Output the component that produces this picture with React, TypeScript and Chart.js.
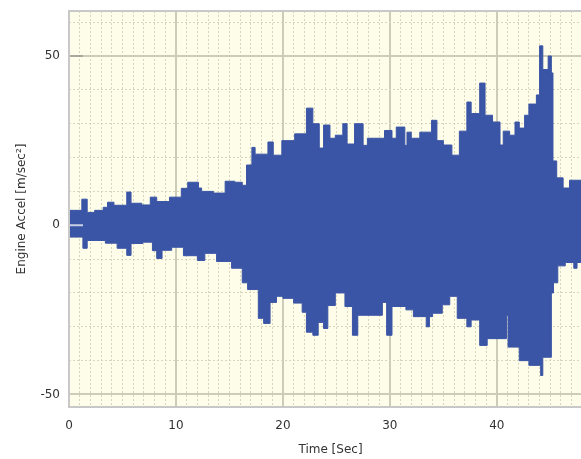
import React, { useEffect, useRef } from "react";
import { Chart, registerables } from "chart.js";

Chart.register(...registerables);

// Upper envelope of the acceleration signal (time in s, value in m/sec²), each value held until the next time
const upperT = [0, 1.2, 1.7, 2.4, 3.2, 3.6, 4.2, 5.4, 5.8, 6.8, 7.6, 8.2, 9.4, 10.5, 11.1, 12.1, 12.4, 13.5, 14.6, 15.5, 16.2, 16.6, 17.1, 17.4, 18.6, 19.1, 19.9, 21.1, 22.2, 22.8, 23.4, 23.8, 24.4, 24.9, 25.6, 26.0, 26.7, 27.5, 27.9, 29.5, 30.2, 30.6, 31.4, 31.6, 32.0, 32.8, 33.9, 34.4, 35.0, 35.8, 36.5, 37.2, 37.6, 38.4, 38.9, 39.6, 40.3, 40.6, 41.2, 41.7, 42.1, 42.6, 43.0, 43.7, 44.0, 44.3, 44.8, 45.1, 45.25, 45.6, 46.2, 46.8, 48.9];
const upperV = [4.4, 7.7, 3.8, 4.4, 5.3, 6.8, 5.9, 9.8, 6.5, 6, 8.3, 7, 8.3, 10.9, 12.7, 11, 10, 9.5, 13, 12.7, 11.8, 17.8, 23, 21, 24.6, 20.7, 25, 27, 34.6, 30, 22.8, 29.6, 25.7, 26.6, 30, 24, 30, 23.6, 25.7, 28, 25.7, 29, 23.6, 27.5, 25.7, 27.5, 31, 25, 23.7, 20.7, 27.8, 36.4, 33, 42, 32.5, 30.5, 23.7, 27.8, 26.6, 30.5, 28.7, 32.5, 35.8, 38.5, 53, 46, 50, 45, 19, 14, 11, 13.3, 13.3];

// Lower envelope
const lowerT = [0, 1.3, 1.7, 3.4, 4.5, 5.4, 5.8, 6.9, 7.8, 8.2, 8.7, 9.6, 10.7, 12.0, 12.7, 13.8, 15.2, 16.2, 16.7, 17.7, 18.2, 18.8, 19.4, 20.0, 21.0, 21.8, 22.2, 22.8, 23.3, 23.8, 24.2, 24.9, 25.8, 26.5, 27.0, 29.3, 29.7, 30.2, 31.5, 32.2, 33.4, 33.7, 34.0, 34.9, 35.6, 36.3, 37.2, 37.6, 38.4, 39.1, 40.9, 41.05, 42.1, 43.0, 44.1, 44.3, 45.1, 45.3, 45.7, 46.4, 47.2, 47.5, 48.9];
const lowerV = [-3.5, -6.8, -4.5, -5.3, -6.8, -8.9, -5.4, -5, -7.5, -9.8, -7.4, -6.5, -9, -10.4, -8.3, -10.7, -12.7, -17, -19, -27.5, -29, -22.8, -21, -21.6, -23, -25.7, -31.6, -32.5, -28.7, -30.5, -23.7, -20, -24, -32.5, -26.6, -22.8, -32.5, -24, -25, -27, -30, -27, -26, -23.5, -21, -27.5, -30, -28, -35.5, -33.5, -26.6, -36, -40, -41.4, -44.4, -39, -20, -17, -12, -11, -12.7, -11, -11];

const xTickLabels = [0, 10, 20, 30, 40];
const yTickLabels = [-50, 0, 50];
const X_MIN = 0;
const X_MAX = 48.9;
const Y_MIN = -53.7;
const Y_MAX = 63.3;

const BLUE = "rgb(58, 84, 166)";
const BG = "#FEFDE9";
const MAJOR = "#CDCBBA";
const MINOR = "#D8D5BC";
const FONT = "'DejaVu Sans', sans-serif";

export default function App() {
  const ref = useRef<HTMLCanvasElement | null>(null);

  useEffect(() => {
    if (!ref.current) return;
    const bgPlugin = {
      id: "plotBg",
      beforeDraw(chart: any) {
        const { ctx, chartArea: a } = chart;
        ctx.save();
        ctx.fillStyle = BG;
        ctx.fillRect(a.left, a.top, a.right - a.left, a.bottom - a.top);
        ctx.restore();
      },
      afterDatasetsDraw(chart: any) {
        const { ctx, chartArea: a, scales } = chart;
        ctx.save();
        const y50 = scales.y.getPixelForValue(50);
        const y0 = scales.y.getPixelForValue(0);
        ctx.lineWidth = 2;
        ctx.strokeStyle = "#A8A8A0";
        ctx.beginPath();
        ctx.moveTo(a.left, y50);
        ctx.lineTo(a.left + 14, y50);
        ctx.stroke();
        ctx.strokeStyle = "#C9D0E6";
        ctx.beginPath();
        ctx.moveTo(a.left, y0);
        ctx.lineTo(a.left + 14, y0);
        ctx.stroke();
        ctx.strokeStyle = "#C8C8C8";
        ctx.lineWidth = 2;
        ctx.strokeRect(a.left, a.top, a.right - a.left + 20, a.bottom - a.top);
        ctx.restore();
      },
    };

    const upper = upperT.map((t, i) => ({ x: t, y: upperV[i] }));
    const lower = lowerT.map((t, i) => ({ x: t, y: lowerV[i] }));

    const chart = new Chart(ref.current, {
      type: "line",
      data: {
        datasets: [
          {
            data: upper,
            borderColor: BLUE,
            backgroundColor: BLUE,
            borderWidth: 1,
            pointRadius: 0,
            stepped: "before",
            fill: "+1",
          },
          {
            data: lower,
            borderColor: BLUE,
            backgroundColor: BLUE,
            borderWidth: 1,
            pointRadius: 0,
            stepped: "before",
            fill: false,
          },
        ],
      },
      options: {
        animation: false,
        responsive: false,
        devicePixelRatio: 1,
        layout: { padding: { left: 0, right: 8, top: 11, bottom: 0 } },
        plugins: { legend: { display: false }, tooltip: { enabled: false } },
        scales: {
          x: {
            type: "linear",
            min: X_MIN,
            max: X_MAX,
            afterBuildTicks(scale: any) {
              const t = [];
              for (let v = 0; v <= 48; v++) t.push({ value: v });
              scale.ticks = t;
            },
            afterFit(scale: any) {
              scale.height = 52;
              scale.paddingLeft = 0;
              scale.paddingRight = 0;
            },
            ticks: {
              autoSkip: false,
              maxRotation: 0,
              padding: 12,
              color: "#333",
              font: { family: FONT, size: 12 },
              callback: (v: any) => (xTickLabels.includes(Number(v)) ? String(v) : ""),
            },
            grid: {
              drawTicks: false,
              color: (c: any) => (c.tick && c.tick.value % 10 === 0 ? MAJOR : MINOR),
              lineWidth: (c: any) => (c.tick && c.tick.value % 10 === 0 ? 2 : 1),
            },
            border: {
              display: false,
              dash: (c: any) => (c.tick && c.tick.value % 10 !== 0 ? [2, 2] : []),
            },
            title: {
              display: true,
              text: "Time [Sec]",
              color: "#333",
              font: { family: FONT, size: 12 },
              padding: { top: 0, bottom: 2 },
            },
          },
          y: {
            type: "linear",
            min: Y_MIN,
            max: Y_MAX,
            afterBuildTicks(scale: any) {
              const t = [];
              for (let v = -50; v <= 60; v += 10) t.push({ value: v });
              scale.ticks = t;
            },
            afterFit(scale: any) {
              scale.width = 69;
              scale.paddingTop = 0;
              scale.paddingBottom = 0;
            },
            ticks: {
              autoSkip: false,
              padding: 9,
              color: "#333",
              font: { family: FONT, size: 12 },
              callback: (v: any) => (yTickLabels.includes(Number(v)) ? String(v) : ""),
            },
            grid: {
              drawTicks: false,
              color: (c: any) => (c.tick && c.tick.value % 50 === 0 ? MAJOR : MINOR),
              lineWidth: (c: any) => (c.tick && c.tick.value % 50 === 0 ? 2 : 1),
            },
            border: {
              display: false,
              dash: (c: any) => (c.tick && c.tick.value % 50 !== 0 ? [2, 2] : []),
            },
            title: {
              display: true,
              text: "Engine Accel [m/sec²]",
              color: "#333",
              font: { family: FONT, size: 12 },
              padding: { top: 15, bottom: 0 },
            },
          },
        },
      },
      plugins: [bgPlugin],
    });
    return () => chart.destroy();
  }, []);

  return (
    <div
      style={{
        position: "fixed",
        left: 0,
        top: 0,
        width: 581,
        height: 459,
        overflow: "hidden",
        background: "#fff",
      }}
    >
      <canvas ref={ref} width={600} height={459} style={{ display: "block" }} />
    </div>
  );
}
